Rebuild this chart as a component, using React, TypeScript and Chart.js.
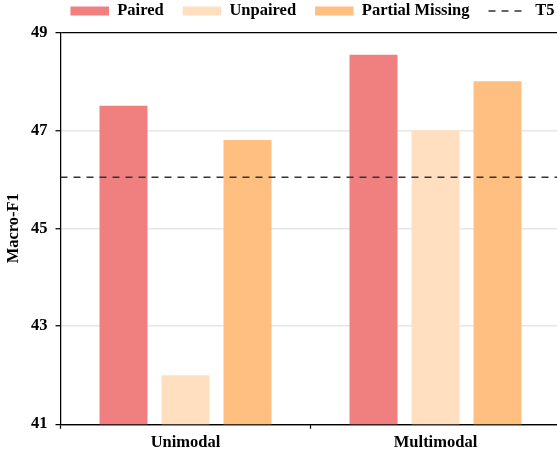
import React, { useEffect, useRef } from 'react';
import { Chart, registerables } from 'chart.js';

Chart.register(...registerables);

// ---- data ----
const categories = ['Unimodal', 'Multimodal'];
const seriesNames = ['Paired', 'Unpaired', 'Partial Missing'];
const pairedScores = [47.5, 48.54];
const unpairedScores = [42.0, 47.0];
const partialMissingScores = [46.8, 48.0];
const t5Name = 'T5';
const t5Score = 46.04;
const yTicks = [41, 43, 45, 47, 49];
const yTitle = 'Macro-F1';

// ---- styles ----
const FONT = "'Liberation Serif', 'Times New Roman', serif";
const barColors = ['#F08080', '#FFDFC0', '#FFBF80'];

const legendNudge = {
  id: 'legendNudge',
  afterLayout(chart: any) {
    const lg = chart.legend;
    if (!lg) return;
    lg.left += 34;
    lg.right += 34;
    lg.top -= 3;
    lg.bottom -= 3;
  },
};

export default function App() {
  const ref = useRef<HTMLCanvasElement | null>(null);

  useEffect(() => {
    if (!ref.current) return;
    const seriesValues = [pairedScores, unpairedScores, partialMissingScores];
    const barSets = seriesValues.map((vals, i) => ({
      type: 'bar' as const,
      label: seriesNames[i],
      data: vals.map((v, j) => ({ x: j, y: v })),
      backgroundColor: barColors[i],
      borderWidth: 0,
      categoryPercentage: 1.488,
      barPercentage: 0.774,
    }));
    const xMin = -0.5;
    const xMax = categories.length - 0.514;
    const lineSet: any = {
      type: 'line' as const,
      label: t5Name,
      data: [
        { x: xMin, y: t5Score },
        { x: xMax, y: t5Score },
      ],
      borderColor: '#333333',
      backgroundColor: '#333333',
      borderWidth: 1.5,
      borderDash: [7, 6],
      pointRadius: 0,
      fill: false,
      order: -1,
    };
    const xTicks: number[] = [];
    for (let i = 0; i < categories.length; i++) xTicks.push(i - 0.5, i);

    const chart = new Chart(ref.current, {
      type: 'bar',
      data: {
        datasets: [...barSets, lineSet] as any,
      },
      plugins: [legendNudge],
      options: {
        animation: false,
        responsive: false,
        layout: { padding: { top: -13.2, right: 0, bottom: 0, left: 0 } },
        plugins: {
          tooltip: { enabled: false },
          legend: {
            display: true,
            position: 'top',
            labels: {
              usePointStyle: true,
              pointStyleWidth: 38.5,
              boxWidth: 38.5,
              boxHeight: 9,
              padding: 19,
              color: '#000',
              font: { family: FONT, size: 16.5, weight: 'bold' },
              sort: (a: any, b: any) => a.datasetIndex - b.datasetIndex,
              generateLabels: (chart: any) => {
                const items = Chart.defaults.plugins.legend.labels.generateLabels(chart);
                return items.map((it: any) => {
                  if (it.datasetIndex === 3) {
                    return {
                      ...it,
                      pointStyle: 'line',
                      strokeStyle: '#333333',
                      lineWidth: 1.5,
                      lineDash: [7, 6],
                    };
                  }
                  return { ...it, pointStyle: 'rect', lineWidth: 0 };
                });
              },
            },
          },
        },
        scales: {
          x: {
            type: 'linear',
            position: 'bottom',
            offset: false,
            min: xMin,
            max: xMax,
            afterBuildTicks: (axis: any) => {
              axis.ticks = xTicks.map((v) => ({ value: v }));
            },
            afterFit: (axis: any) => {
              axis.height = 29.8;
            },
            grid: {
              display: true,
              offset: false,
              drawOnChartArea: false,
              drawTicks: true,
              tickLength: 4.5,
              tickColor: (c: any) =>
                c.tick && Number.isInteger(c.tick.value) ? 'rgba(0,0,0,0)' : '#000',
              tickWidth: 1.25,
            },
            border: { display: true, color: '#000', width: 1.25 },
            ticks: {
              color: '#000',
              padding: 4.5,
              autoSkip: false,
              maxRotation: 0,
              callback: (v: any) => (Number.isInteger(v) ? categories[v] : ''),
              font: { family: FONT, size: 16.5, weight: 'bold' },
            },
          },
          y: {
            type: 'linear',
            position: 'left',
            offset: false,
            min: yTicks[0],
            max: yTicks[yTicks.length - 1],
            afterBuildTicks: (axis: any) => {
              axis.ticks = yTicks.map((v) => ({ value: v }));
            },
            afterFit: (axis: any) => {
              axis.width = 60.5;
            },
            grid: {
              offset: false,
              color: (c: any) =>
                c.tick && (c.tick.value === 49 || c.tick.value === 41) ? '#000' : '#e6e6e6',
              lineWidth: (c: any) =>
                c.tick && (c.tick.value === 49 || c.tick.value === 41) ? 1.25 : 1.5,
              tickColor: '#000',
              tickLength: 5,
              tickWidth: 1.25,
            },
            border: { display: true, color: '#000', width: 1.25 },
            ticks: {
              color: '#000',
              padding: 8,
              font: { family: FONT, size: 16.5, weight: 'bold' },
            },
            title: {
              display: true,
              text: yTitle,
              color: '#000',
              font: { family: FONT, size: 16.5, weight: 'bold' },
              padding: { top: 4, bottom: 7 },
            },
          },
        },
      },
    });
    return () => chart.destroy();
  }, []);

  return (
    <div style={{ position: 'absolute', left: 0, top: 0, width: 557, height: 454, overflow: 'hidden', background: '#fff' }}>
      <canvas ref={ref} width={557} height={454} />
    </div>
  );
}
